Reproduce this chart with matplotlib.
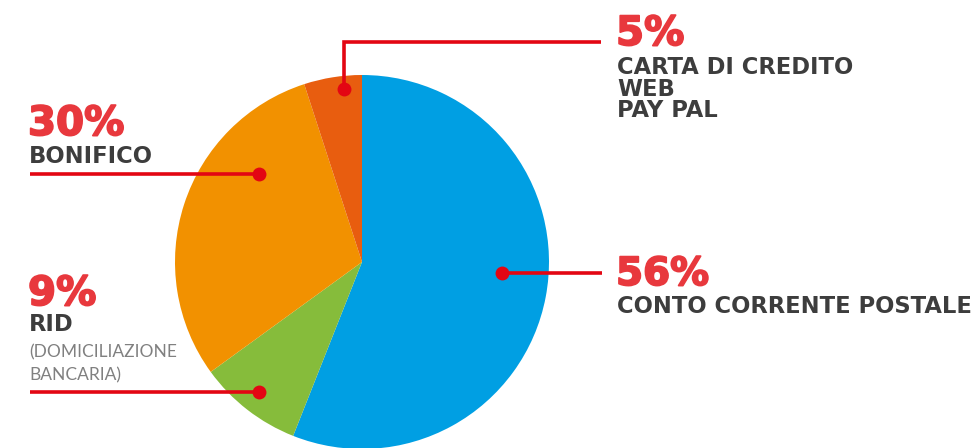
import matplotlib
matplotlib.use("Agg")
import matplotlib.pyplot as plt
import matplotlib.patheffects as pe
from matplotlib import font_manager

# Payment methods share
categories = ["CONTO CORRENTE POSTALE", "RID", "BONIFICO", "CARTA DI CREDITO\nWEB\nPAY PAL"]
shares = [56, 9, 30, 5]
pct_labels = ["56%", "9%", "30%", "5%"]
sub_labels = ["", "(DOMICILIAZIONE\nBANCARIA)", "", ""]
colors = ["#009FE3", "#86BC3B", "#F29100", "#E85D0F"]

W, H = 980, 448
RED = "#E30613"
PCT_RED = "#E8383D"
DARK = "#3D3D3D"
LIGHT = "#808080"

families = {f.name for f in font_manager.fontManager.ttflist}
MAIN = "DejaVu Sans"
THIN = "Lato" if "Lato" in families else "DejaVu Sans"

fig = plt.figure(figsize=(W / 100, H / 100), dpi=100)
ax = fig.add_axes([0, 0, 1, 1])


def Y(py):
    """Convert a top-down pixel row into axis units."""
    return H - py


ax.pie(shares, colors=colors, startangle=90, counterclock=False,
       center=(362, Y(262)), radius=187, wedgeprops=dict(linewidth=0))
ax.set_xlim(0, W)
ax.set_ylim(0, H)
ax.set_aspect("auto")
ax.axis("off")

# Leader lines with end dots
lw = 2.6
ms = 10


def leader(xs, ys):
    ax.plot(xs, [Y(v) for v in ys], color=RED, lw=lw,
            solid_capstyle="butt", solid_joinstyle="miter")
    ax.plot([xs[-1]], [Y(ys[-1])], "o", color=RED, ms=ms, mew=0)


leader([30, 259], [174, 174])          # BONIFICO
leader([30, 259], [392, 392])          # RID
leader([602, 502], [273, 273])         # conto corrente
leader([601, 344, 344], [42, 42, 89])  # carta di credito

heavy = [pe.withStroke(linewidth=1.3, foreground=PCT_RED)]
pct_kw = dict(color=PCT_RED, fontsize=29, fontweight="bold", family=MAIN,
              va="baseline", ha="left", path_effects=heavy)
lab_kw = dict(color=DARK, fontsize=16.3, fontweight="bold", family=MAIN,
              va="baseline", ha="left")
sub_kw = dict(color=LIGHT, fontsize=12.5, fontweight="normal", family=THIN,
              va="baseline", ha="left")

# BONIFICO
ax.text(28, Y(135), pct_labels[2], **pct_kw)
ax.text(29, Y(163), categories[2], **lab_kw)
# RID
ax.text(28, Y(305), pct_labels[1], **pct_kw)
ax.text(29, Y(331), categories[1], **lab_kw)
for i, line in enumerate(sub_labels[1].split("\n")):
    ax.text(29, Y(357 + 23 * i), line, **sub_kw)
# CONTO CORRENTE POSTALE
ax.text(616, Y(285), pct_labels[0], **{**pct_kw, "fontsize": 28})
ax.text(617, Y(313), categories[0], **lab_kw)
# CARTA DI CREDITO / WEB / PAY PAL
ax.text(616, Y(45), pct_labels[3], **pct_kw)
for i, line in enumerate(categories[3].split("\n")):
    ax.text(617, Y(74 + 21.5 * i), line, **lab_kw)

fig.savefig("out.png", dpi=100, facecolor="white")
